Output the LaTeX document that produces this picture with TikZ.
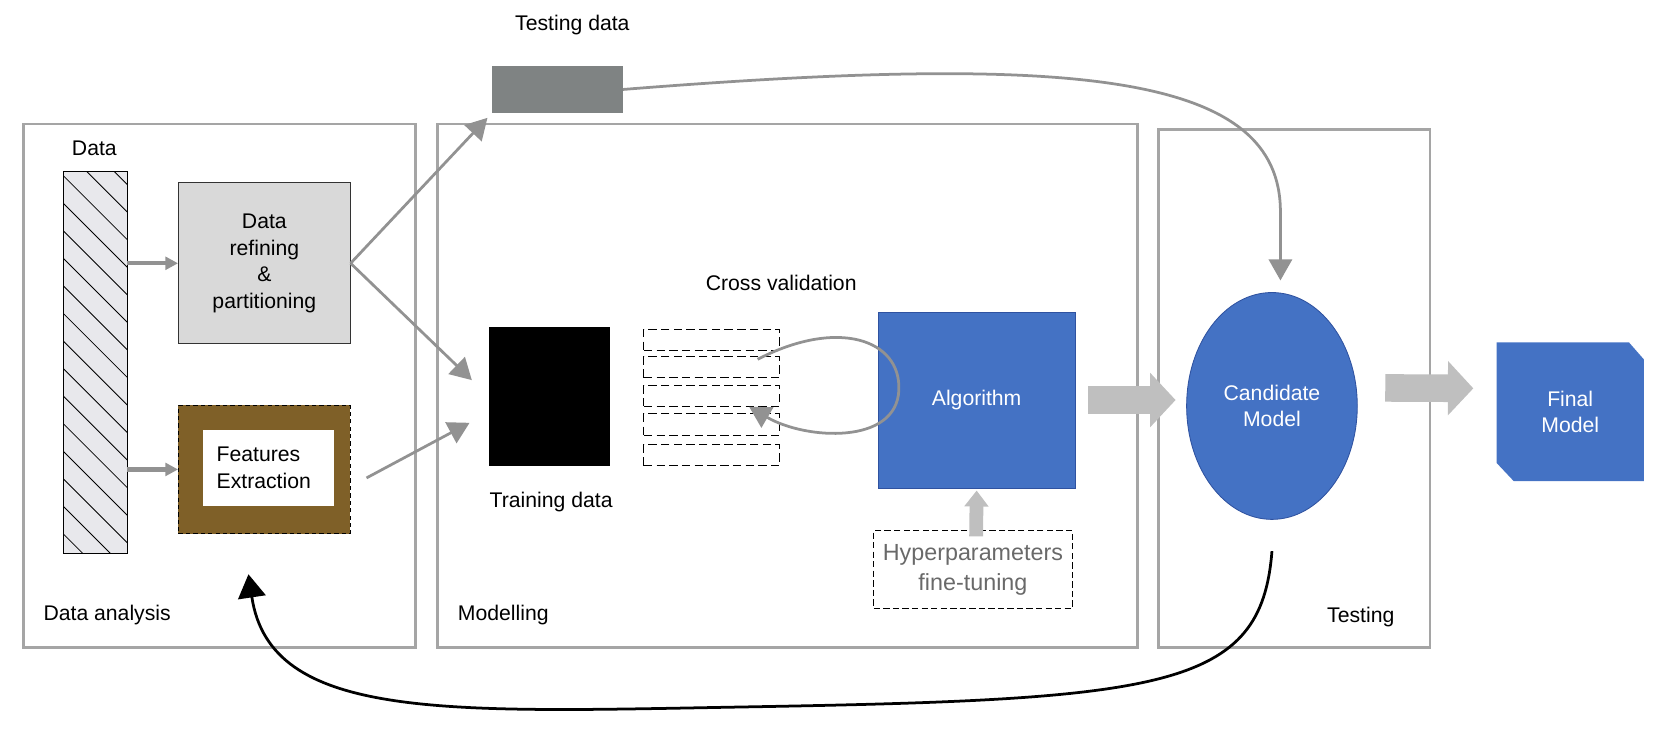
\documentclass[tikz,border=0pt]{standalone}
\usepackage{fontspec}
\setmainfont{Liberation Sans}
\usetikzlibrary{arrows.meta, calc, shapes.geometric, backgrounds}
\definecolor{panelgray}{RGB}{165,165,165}
\definecolor{linkgray}{RGB}{146,146,146}
\definecolor{fatgray}{RGB}{191,191,191}
\definecolor{tdatagray}{RGB}{127,131,131}
\definecolor{modelblue}{RGB}{68,114,196}
\definecolor{edgeblue}{RGB}{47,82,160}
\definecolor{featbrown}{RGB}{127,96,40}
\definecolor{hatchfill}{RGB}{232,232,236}
\definecolor{refinefill}{RGB}{217,217,217}
\definecolor{hypergray}{RGB}{105,105,105}
\begin{document}
\begin{tikzpicture}[x = 0.5pt, y = -0.5pt, font = \fontsize{10}{12.5}\selectfont,
        panel/.style = {draw = panelgray, line width = 1.2pt},
        box/.style = {anchor = north west, inner sep = 0pt},
        fold/.style = {box, draw, thin, dash pattern = on 4pt off 2pt, minimum width = 64pt, minimum height = 10pt},
        conn/.style = {draw = linkgray, line width = 1.3pt, -{Triangle[length = 10pt, width = 11pt]}},
        stub/.style = {draw = linkgray, line width = 2pt, -{Triangle[length = 6pt, width = 6pt]}},
        fat/.style = {draw = fatgray, line width = 13pt, -{Triangle[length = 12pt, width = 25pt]}},
        back/.style = {draw = black, line width = 1.3pt, -{Triangle[length = 11pt, width = 13pt]}}]
    \useasboundingbox (0, 0) rectangle (1568, 689);
    % panels
    \draw [panel] (22, 117) rectangle (392, 611);
    \draw [panel] (413, 117) rectangle (1073, 611);
    \draw [panel] (1093, 122) rectangle (1349, 611);
    \node [anchor = west] at (34, 580) {Data analysis};
    \node [anchor = west] at (425, 580) {Modelling};
    \node [anchor = west] at (1245, 582) {Testing};
    % data analysis
    \node [box, fill = hatchfill, minimum width = 29.5pt, minimum height = 179.5pt] (bar) at (60, 162) {};
    \begin{scope}
        \clip (bar.north west) rectangle (bar.south east);
        \foreach \k in {-3, ..., 14}
            \draw [thin] (60, {140 + 26 * \k}) -- ++(90, 90);
    \end{scope}
    \draw [thin] (bar.north west) rectangle (bar.south east);
    \node at (89, 140) {Data};
    \node [box, fill = refinefill, draw = black!80, thin, minimum width = 81pt, minimum height = 76pt, align = center] (ref) at (168, 172) {Data\\refining\\\&\\partitioning};
    \node [box, fill = featbrown, draw, thin, dash pattern = on 2pt off 1.5pt, minimum width = 81pt, minimum height = 60.5pt] (feat) at (168, 382) {};
    \node [box, fill = white, minimum width = 62pt, minimum height = 36pt, text width = 49pt, inner xsep = 6.5pt, align = left] (featin) at (191, 405) {Features\\Extraction};
    \draw [stub] (bar.east |- ref.west) -- (ref.west);
    \draw [stub] (bar.east |- feat.west) -- (feat.west);
    % modelling
    \node [box, fill = tdatagray, minimum width = 61.5pt, minimum height = 22pt] (tdata) at (464, 62) {};
    \node at (540, 24) {Testing data};
    \node [box, fill = black, minimum width = 57pt, minimum height = 65.5pt] (train) at (461, 308) {};
    \node at (520, 474) {Training data};
    \node at (737, 267) {Cross validation};
    \foreach \y [count = \i] in {310, 336, 363, 390, 419}
        \node [fold] (fold\i) at (607, \y) {};
    \node [box, fill = modelblue, draw = edgeblue, minimum width = 93pt, minimum height = 83pt, text = white] (algo) at (828, 294) {Algorithm};
    \node [box, draw, thin, dash pattern = on 3pt off 1.5pt, minimum width = 93.5pt, minimum height = 37pt, text = hypergray, align = center, font = \fontsize{11}{14}\selectfont] (hyper) at (824, 500) {Hyperparameters\\fine-tuning};
    \draw [conn, shorten > = 3pt] (ref.east) -- (tdata.south west);
    \draw [conn, shorten > = 11pt] (ref.east) -- (train.west);
    \draw [conn] ($(feat.east) + (15, 8)$) -- ($(train.west) + (-18, 25)$);
    \draw [conn] ($(fold2.north east) + (-21, 3)$) .. controls (790, 300) and (850, 320) .. (848, 368) .. controls (846, 420) and (760, 415) .. ($(fold3.south east) + (-29, 0)$);
    \draw [fat, line width = 6.5pt, -{Triangle[length = 7.5pt, width = 11pt]}] ($(hyper.north) + (3, 6)$) -- ($(algo.south) + (0, 2)$);
    % testing
    \node [ellipse, fill = modelblue, draw = edgeblue, minimum width = 80.5pt, minimum height = 107pt, inner sep = 0pt, text = white, align = center] (cand) at (1200, 383) {Candidate\\Model};
    \node [box, minimum width = 69pt, minimum height = 65pt, text = white, align = center] (final) at (1412, 323) {Final\\Model};
    \begin{scope}[on background layer]
        \fill [modelblue] (final.north west) -- ($(final.north east) + (-14, 0)$) -- ($(final.north east) + (0, 16)$) -- (final.south east) -- ($(final.south west) + (16, 0)$) -- ($(final.south west) + (0, -17)$) -- cycle;
    \end{scope}
    \draw [fat, shorten < = 6pt, shorten > = 5pt] (algo.east) -- (algo.east -| cand.west);
    \draw [fat] ($(cand.east) + (26, -17)$) -- ($(final.west) + (-22, -22)$);
    \draw [conn, shorten > = 5.5pt] (tdata.east) .. controls (1020, 50) and (1208, 70) .. (1208, 200) -- ($(cand.north) + (8, 0)$);
    \coordinate (loopstart) at (1200, 520);
    \draw [back] (loopstart) .. controls (1190, 650) and (1100, 660) .. (700, 667) .. controls (420, 672) and (255, 680) .. ($(feat.south) + (-15, 38)$);
\end{tikzpicture}
\end{document}
